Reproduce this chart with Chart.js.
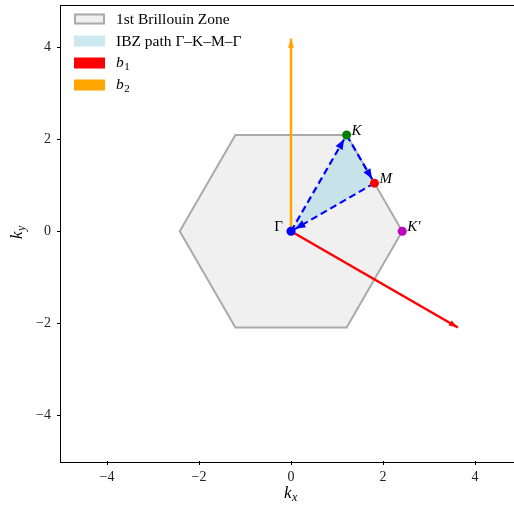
<!DOCTYPE html>
<html>
<head>
<meta charset="utf-8">
<script src="https://cdn.jsdelivr.net/npm/chart.js@4"></script>
<style>
  html, body { margin: 0; padding: 0; background: #fff; overflow: hidden; }
  #wrap { width: 514px; height: 510px; overflow: hidden; }
</style>
</head>
<body>
<div id="wrap"><canvas id="bz" width="530" height="510" style="width:530px;height:510px"></canvas></div>
<script>
// Graphene Brillouin zone, a = sqrt(3)

// Hexagon corners (closed)
const hexKx = [2.418, 1.209, -1.209, -2.418, -1.209, 1.209, 2.418];
const hexKy = [0, 2.094, 2.094, 0, -2.094, -2.094, 0];

// Irreducible wedge Γ–K–M–Γ
const ibzKx = [0, 1.209, 1.814, 0];
const ibzKy = [0, 2.094, 1.047, 0];

// Reciprocal lattice vectors
const b1Vec = [3.628, -2.094];
const b2Vec = [0, 4.189];

// High-symmetry points
const pointNames = ['Γ', 'K', 'M', 'K′'];
const pointKx = [0, 1.209, 1.814, 2.418];
const pointKy = [0, 2.094, 1.047, 0];
const pointColors = ['#0000ff', '#008000', '#ff0000', '#bf00bf'];

// Axis ticks
const xTicks = [-4, -2, 0, 2, 4];
const yTicks = [-4, -2, 0, 2, 4];

// Legend
const legendLabels = ['1st Brillouin Zone', 'IBZ path Γ–K–M–Γ', 'b1', 'b2'];

const serif = "'Liberation Serif', 'DejaVu Serif', serif";

function toXY(xs, ys) {
    return xs.map((x, i) => ({ x: x, y: ys[i] }));
}

function fmt(v) {
    return v < 0 ? '\u2212' + Math.abs(v) : String(v);
}

const datasets = [
    {
        data: toXY(hexKx, hexKy),
        borderColor: '#aaaaaa',
        backgroundColor: '#f0f0f0',
        borderWidth: 2,
        fill: 'shape',
        pointRadius: 0,
        order: 10
    },
    {
        data: toXY(ibzKx, ibzKy),
        borderColor: 'rgba(0,0,0,0)',
        backgroundColor: 'rgba(173,216,230,0.6)',
        borderWidth: 0,
        fill: 'shape',
        pointRadius: 0,
        order: 9
    },
    {
        data: [{ x: 0, y: 0 }, { x: b1Vec[0], y: b1Vec[1] }],
        borderColor: '#ff0000',
        borderWidth: 2.5,
        pointRadius: 0,
        arrow: { color: '#ff0000', shrink: 0, len: 9, width: 6 },
        order: 8
    },
    {
        data: [{ x: 0, y: 0 }, { x: b2Vec[0], y: b2Vec[1] }],
        borderColor: '#ffa500',
        borderWidth: 2.5,
        pointRadius: 0,
        arrow: { color: '#ffa500', shrink: 0, len: 9, width: 6 },
        order: 8
    }
];

// dashed path segments Γ→K, K→M, M→Γ
for (let i = 0; i < ibzKx.length - 1; i++) {
    datasets.push({
        data: [{ x: ibzKx[i], y: ibzKy[i] }, { x: ibzKx[i + 1], y: ibzKy[i + 1] }],
        borderColor: '#0000ff',
        borderWidth: 2.2,
        borderDash: [7, 4],
        pointRadius: 0,
        arrow: { color: '#0000ff', shrink: 5, len: 10, width: 8 },
        order: 5
    });
}

datasets.push({
    data: toXY(pointKx, pointKy),
    showLine: false,
    pointRadius: 4.5,
    pointBackgroundColor: pointColors,
    pointBorderWidth: 0,
    order: 1
});

// Arrow heads at the end of datasets that ask for them
const arrowPlugin = {
    id: 'arrowHeads',
    afterDatasetDraw(chart, args) {
        const ds = chart.data.datasets[args.index];
        if (!ds.arrow) return;
        const xs = chart.scales.x, ys = chart.scales.y;
        const p0 = ds.data[ds.data.length - 2], p1 = ds.data[ds.data.length - 1];
        const x0 = xs.getPixelForValue(p0.x), y0 = ys.getPixelForValue(p0.y);
        let x1 = xs.getPixelForValue(p1.x), y1 = ys.getPixelForValue(p1.y);
        const a = Math.atan2(y1 - y0, x1 - x0);
        x1 -= ds.arrow.shrink * Math.cos(a);
        y1 -= ds.arrow.shrink * Math.sin(a);
        const len = ds.arrow.len, w = ds.arrow.width / 2;
        const ctx = chart.ctx;
        ctx.save();
        ctx.fillStyle = ds.arrow.color;
        ctx.beginPath();
        ctx.moveTo(x1, y1);
        ctx.lineTo(x1 - len * Math.cos(a) + w * Math.sin(a), y1 - len * Math.sin(a) - w * Math.cos(a));
        ctx.lineTo(x1 - len * Math.cos(a) - w * Math.sin(a), y1 - len * Math.sin(a) + w * Math.cos(a));
        ctx.closePath();
        ctx.fill();
        ctx.restore();
    }
};

// Point labels, axis titles, frame and legend
function subText(ctx, base, sub, x, y, size) {
    ctx.font = 'italic ' + size + 'px ' + serif;
    ctx.fillText(base, x, y);
    const w = ctx.measureText(base).width;
    const style = /[0-9]/.test(sub) ? '' : 'italic ';
    ctx.font = style + Math.round(size * 0.7) + 'px ' + serif;
    ctx.fillText(sub, x + w + 0.5, y + size * 0.25);
    return w + ctx.measureText(sub).width;
}

const decorPlugin = {
    id: 'decor',
    afterDatasetsDraw(chart) {
        const ctx = chart.ctx;
        const xs = chart.scales.x, ys = chart.scales.y;
        ctx.save();
        ctx.fillStyle = '#000';
        ctx.textBaseline = 'middle';
        pointNames.forEach((name, i) => {
            const px = xs.getPixelForValue(pointKx[i]);
            const py = ys.getPixelForValue(pointKy[i]);
            if (i === 0) {
                ctx.textAlign = 'right';
                ctx.font = '15px ' + serif;
                ctx.fillText(name, px - 8, py - 4);
            } else {
                ctx.textAlign = 'left';
                ctx.font = 'italic 15px ' + serif;
                ctx.fillText(name, px + 5, py - 4);
            }
        });
        ctx.restore();
    },
    afterDraw(chart) {
        const ctx = chart.ctx;
        const area = chart.chartArea;
        ctx.save();
        // frame
        ctx.strokeStyle = '#000';
        ctx.lineWidth = 1;
        ctx.strokeRect(Math.round(area.left) - 0.5, Math.round(area.top) + 0.5,
            Math.round(area.right - area.left) + 1, Math.round(area.bottom - area.top));

        // axis titles
        ctx.fillStyle = '#000';
        ctx.textBaseline = 'middle';
        ctx.textAlign = 'left';
        subText(ctx, 'k', 'x', 284, 494, 17);
        ctx.translate(18, 231);
        ctx.rotate(-Math.PI / 2);
        subText(ctx, 'k', 'y', -8, 0, 17);
        ctx.setTransform(1, 0, 0, 1, 0, 0);

        // legend
        const rows = [
            { fill: '#f0f0f0', edge: '#aaaaaa' },
            { fill: 'rgba(173,216,230,0.6)', edge: null },
            { fill: '#ff0000', edge: null },
            { fill: '#ffa500', edge: null }
        ];
        rows.forEach((r, i) => {
            const y = 19 + i * 22;
            ctx.fillStyle = r.fill;
            ctx.fillRect(74, y - 5.5, 31, 11);
            if (r.edge) {
                ctx.strokeStyle = r.edge;
                ctx.lineWidth = 2;
                ctx.strokeRect(75, y - 4.5, 29, 9);
            }
            ctx.fillStyle = '#000';
            ctx.textAlign = 'left';
            ctx.textBaseline = 'middle';
            if (i < 2) {
                ctx.font = '15.5px ' + serif;
                ctx.fillText(legendLabels[i], 116, y + 1);
            } else {
                subText(ctx, legendLabels[i][0], legendLabels[i][1], 116, y, 15.5);
            }
        });
        ctx.restore();
    }
};

new Chart(document.getElementById('bz'), {
    type: 'line',
    data: { datasets: datasets },
    options: {
        responsive: false,
        animation: false,
        layout: { padding: { top: 4, right: 9, left: 0, bottom: 0 } },
        plugins: {
            legend: { display: false },
            tooltip: { enabled: false }
        },
        scales: {
            x: {
                type: 'linear',
                min: -5,
                max: 5,
                afterFit: function(scale) {
                    scale.height = 49;
                    scale.paddingLeft = 0;
                    scale.paddingRight = 0;
                },
                afterBuildTicks: function(scale) { scale.ticks = xTicks.map(v => ({ value: v })); },
                grid: { drawOnChartArea: false, drawTicks: true, tickLength: 4, color: '#000', lineWidth: 1 },
                border: { display: false },
                ticks: {
                    padding: 4,
                    color: '#222',
                    font: { family: serif, size: 14 },
                    callback: v => fmt(v)
                }
            },
            y: {
                type: 'linear',
                min: -5,
                max: 4.935,
                afterFit: function(scale) {
                    scale.width = 61;
                    scale.paddingTop = 0;
                    scale.paddingBottom = 0;
                },
                afterBuildTicks: function(scale) { scale.ticks = yTicks.map(v => ({ value: v })); },
                grid: { drawOnChartArea: false, drawTicks: true, tickLength: 4, color: '#000', lineWidth: 1 },
                border: { display: false },
                ticks: {
                    padding: 6,
                    color: '#222',
                    font: { family: serif, size: 14 },
                    callback: v => fmt(v)
                }
            }
        }
    },
    plugins: [arrowPlugin, decorPlugin]
});
</script>
</body>
</html>
